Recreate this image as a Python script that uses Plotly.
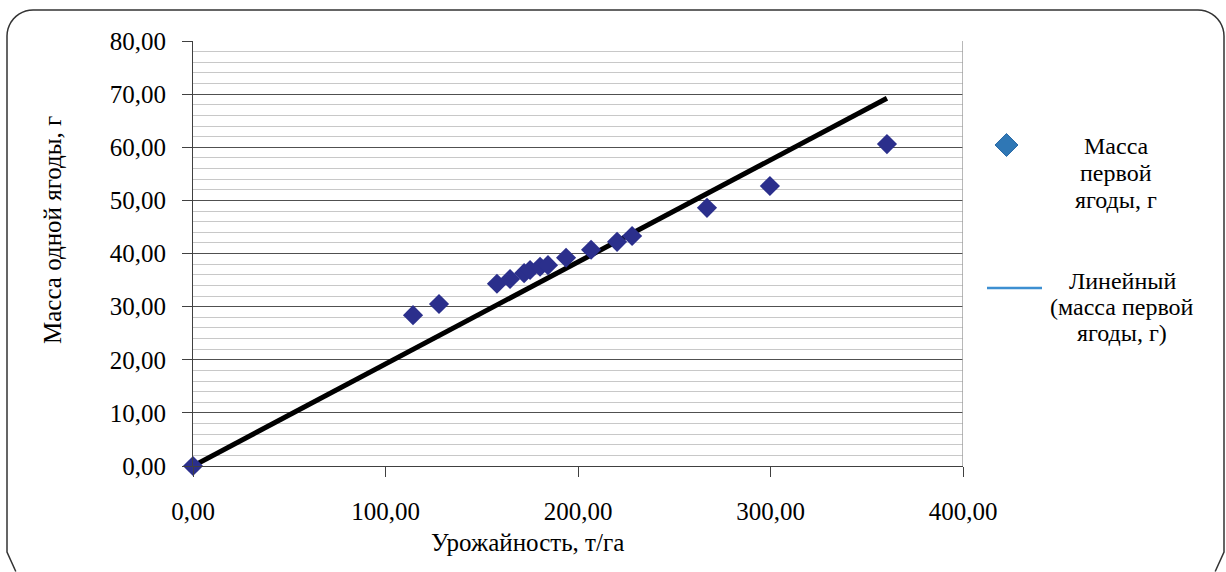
import numpy as np
import plotly.graph_objects as go

# Урожайность (т/га) и масса одной ягоды (г)
yield_t_ha = [0.0, 114.3, 127.8, 157.9, 164.7, 172.0, 175.1, 180.3, 184.4,
              193.8, 206.8, 220.3, 228.1, 267.0, 299.7, 360.5]
berry_mass_g = [0.0, 28.4, 30.5, 34.3, 35.2, 36.3, 36.9, 37.5, 37.8,
                39.2, 40.7, 42.2, 43.3, 48.6, 52.7, 60.6]

x_ticks = [0, 100, 200, 300, 400]
y_ticks = [0, 10, 20, 30, 40, 50, 60, 70, 80]

legend_marker_text = ["Масса", "первой", "ягоды, г"]
legend_line_text = ["Линейный", "(масса первой", "ягоды, г)"]

# Linear trend forced through the origin (least squares)
xa = np.array(yield_t_ha)
ya = np.array(berry_mass_g)
slope = float((xa * ya).sum() / (xa * xa).sum())
trend_x = [0.0, float(xa.max())]
trend_y = [slope * v for v in trend_x]

W, H = 1226, 572
FONT = "'Liberation Serif', 'Times New Roman', 'DejaVu Serif', serif"


def px(x):
    return x / W


def py(y):
    return 1 - y / H


fig = go.Figure()

fig.add_trace(go.Scatter(
    x=trend_x, y=trend_y, mode="lines",
    line=dict(color="black", width=5),
    showlegend=False, cliponaxis=False, hoverinfo="skip",
))
fig.add_trace(go.Scatter(
    x=yield_t_ha, y=berry_mass_g, mode="markers",
    marker=dict(symbol="diamond", size=15.5, color="#2B2F8C",
                line=dict(width=0)),
    showlegend=False, cliponaxis=False,
))

axis_font = dict(family=FONT, size=25, color="black")

fig.update_layout(
    width=W, height=H,
    autosize=False,
    margin=dict(l=0, r=0, t=0, b=0, pad=0),
    paper_bgcolor="white",
    plot_bgcolor="white",
    separators=", ",
    showlegend=False,
    font=dict(family=FONT, color="black"),
    xaxis=dict(
        domain=[px(193), px(963)], automargin=False,
        range=[0, 400], tickvals=x_ticks, tickformat=".2f",
        ticks="outside", ticklen=10, tickcolor="#404040", tickwidth=1,
        showline=True, linecolor="#404040", linewidth=1,
        showgrid=False, zeroline=False,
        tickfont=axis_font, ticklabelstandoff=13,
    ),
    yaxis=dict(
        domain=[py(466), py(41)], automargin=False,
        range=[0, 80], tickvals=y_ticks, tickformat=".2f",
        ticks="outside", ticklen=10, tickcolor="#404040", tickwidth=1,
        showline=True, linecolor="#404040", linewidth=1,
        showgrid=True, gridcolor="#505050", gridwidth=1,
        minor=dict(dtick=2, showgrid=True, gridcolor="#c8c8c8", gridwidth=1.2),
        zeroline=False,
        tickfont=axis_font, ticklabelstandoff=11,
    ),
)

# right edge of the plot area
fig.add_shape(type="line", xref="x", yref="y", x0=400, x1=400, y0=0, y1=80,
              line=dict(color="#a0a0a0", width=1.5), layer="above")

# rounded outer frame; its bottom edge runs just below the page
L, T, R, B, r = 7, 10, 1224, 578, 26
y_cut = 571.5


def arc(cx, cy, a0, a1, n=12):
    return [(cx + r * np.cos(t), cy - r * np.sin(t)) for t in np.linspace(a0, a1, n)]


dx_cut = r * np.sqrt(max(0.0, 1 - ((y_cut - (B - r)) / r) ** 2))
start = (L + r - dx_cut, y_cut)
end = (R - r + dx_cut, y_cut)
pts = ([start, (L, B - r)]
       + arc(L + r, T + r, np.pi, np.pi / 2)
       + arc(R - r, T + r, np.pi / 2, 0)
       + [(R, B - r), end])
path = "M " + " L ".join(f"{px(a):.5f},{py(b):.5f}" for a, b in pts)
fig.add_shape(type="path", xref="paper", yref="paper", path=path,
              line=dict(color="#333333", width=1.5))

# axis titles
title_font = dict(family=FONT, size=25, color="black")
fig.add_annotation(x=px(527), y=py(542), xref="paper", yref="paper",
                   text="Урожайность, т/га", showarrow=False, font=title_font,
                   xanchor="center", yanchor="middle")
fig.add_annotation(x=px(52), y=py(230), xref="paper", yref="paper",
                   text="Масса одной ягоды, г", showarrow=False, font=title_font,
                   textangle=-90, xanchor="center", yanchor="middle")

# legend: diamond marker
cx, cy, d = 1006.5, 145, 11.5
diamond = (f"M {px(cx):.5f},{py(cy - d):.5f} L {px(cx + d):.5f},{py(cy):.5f} "
           f"L {px(cx):.5f},{py(cy + d):.5f} L {px(cx - d):.5f},{py(cy):.5f} Z")
fig.add_shape(type="path", xref="paper", yref="paper", path=diamond,
              fillcolor="#2F77B5", line=dict(color="#2A6AA6", width=1))

# legend: trend line sample
fig.add_shape(type="line", xref="paper", yref="paper",
              x0=px(987), x1=px(1042), y0=py(288), y1=py(288),
              line=dict(color="#3D8FD1", width=2.5))

legend_font = dict(family=FONT, size=24, color="black")
for i, t in enumerate(legend_marker_text):
    fig.add_annotation(x=px(1116), y=py(146 + 27 * i), xref="paper", yref="paper",
                       text=t, showarrow=False, font=legend_font,
                       xanchor="center", yanchor="middle")
for i, t in enumerate(legend_line_text):
    fig.add_annotation(x=px(1122), y=py(281 + 26 * i), xref="paper", yref="paper",
                       text=t, showarrow=False, font=legend_font,
                       xanchor="center", yanchor="middle")

fig.write_html("out.html")
